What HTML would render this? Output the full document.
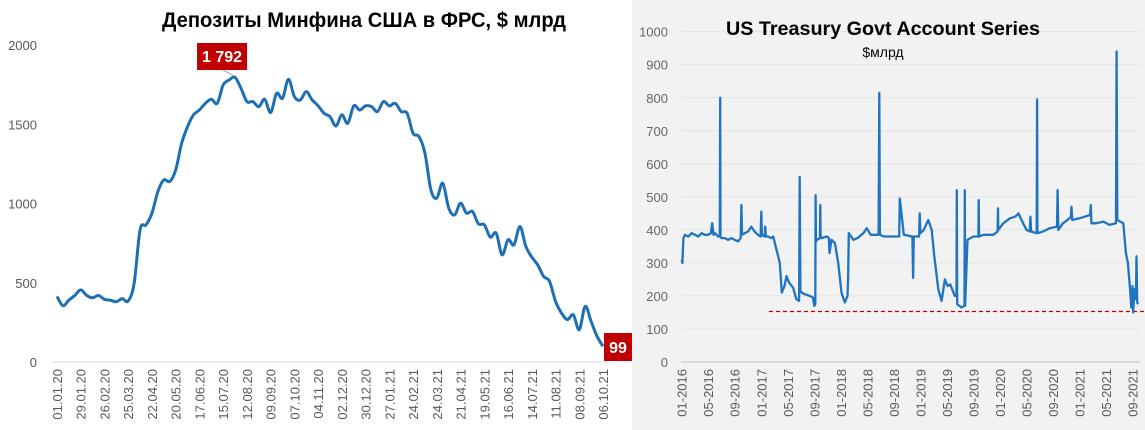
<!DOCTYPE html>
<html><head><meta charset="utf-8"><style>
html,body{margin:0;padding:0;background:#fff;}
svg{display:block;font-family:"Liberation Sans","DejaVu Sans",sans-serif;}
</style></head><body>
<svg id="c" width="1145" height="430" viewBox="0 0 1145 430" xmlns="http://www.w3.org/2000/svg">
<rect x="0" y="0" width="632" height="430" fill="#ffffff"/>
<rect x="632" y="0" width="513" height="430" fill="#f2f2f2"/>
<g id="L"></g>
<g id="R"></g>
</svg>
<script>
// ---- Left chart data (weekly) ----
const leftCategories = ["01.01.20","29.01.20","26.02.20","25.03.20","22.04.20","20.05.20","17.06.20","15.07.20","12.08.20","09.09.20","07.10.20","04.11.20","02.12.20","30.12.20","27.01.21","24.02.21","24.03.21","21.04.21","19.05.21","16.06.21","14.07.21","11.08.21","08.09.21","06.10.21"];
const leftValues = [414,355,390,420,455,420,405,420,395,390,380,400,385,498,834,865,939,1076,1149,1139,1212,1380,1485,1559,1590,1632,1658,1632,1748,1779,1796,1727,1643,1643,1611,1658,1574,1695,1664,1784,1674,1653,1706,1653,1616,1569,1548,1489,1559,1506,1616,1590,1616,1611,1580,1643,1616,1632,1580,1569,1443,1422,1317,1086,1034,1128,971,928,1002,939,950,872,866,788,813,676,771,739,855,729,662,613,540,508,382,309,267,298,204,351,256,162,99];
const leftTicks = [0,500,1000,1500,2000];
const leftPeakLabel = "1 792";
const leftLastLabel = "99";

// ---- Right chart data (month offset from 01-2016, value $bn) ----
const rightMonths = [0,0.1,0.25,0.5,1,1.5,2,2.5,3,3.5,4,4.4,4.6,4.8,5,5.5,5.75,5.8,5.85,6,6.5,7,7.5,8,8.5,8.9,9.0,9.1,9.5,10,10.5,11,11.5,11.9,12,12.1,12.5,12.6,12.7,13,13.5,13.8,14.3,14.8,15.1,15.5,15.8,16.2,16.8,17.3,17.7,17.8,17.9,18.1,18.6,19.3,19.8,20,20.15,20.2,20.25,20.4,20.85,20.9,20.95,21.1,21.9,22.2,22.3,22.6,23.1,23.6,24.1,24.6,25.0,25.1,25.2,25.9,26.5,27.4,27.9,28.5,29.6,29.7,29.8,29.9,30.5,31.9,32.7,32.8,32.9,33.5,34.7,34.8,34.9,35.0,35.7,35.8,35.9,36,36.5,37.2,37.7,38.1,38.7,39.2,39.7,40.1,40.5,41.2,41.45,41.5,41.55,42.2,42.65,42.7,42.75,43.1,44,44.75,44.8,44.85,45.5,47,47.65,47.7,47.75,48.5,49.5,50.3,50.8,51.5,52,52.5,52.6,52.7,53.5,53.55,53.6,53.65,54.5,55.5,56.6,56.7,56.8,57.5,58.5,58.7,58.8,58.9,60,61.6,61.7,61.8,62.5,63.6,64.5,65.5,65.6,65.7,66.6,67,67.3,67.7,67.8,68,68.1,68.3,68.5,68.6,68.7,68.85,69];
const rightValues = [310,300,375,385,380,390,385,380,390,385,385,390,420,385,390,380,380,800,380,375,375,370,375,370,365,375,475,385,390,395,410,395,385,380,455,385,380,410,380,380,375,380,340,300,210,230,260,240,225,190,185,560,215,210,205,200,195,170,175,505,365,370,375,475,375,375,380,375,330,370,360,300,210,180,200,250,390,370,375,390,405,385,385,390,815,385,380,380,380,380,495,385,380,380,255,380,380,380,450,390,400,430,400,320,220,185,250,230,235,200,200,520,175,165,170,520,170,370,380,380,490,380,385,385,395,465,400,420,435,440,450,420,400,395,440,395,390,392,795,390,395,405,410,520,400,420,435,440,470,430,435,445,475,420,420,425,415,420,940,430,420,330,300,200,165,230,150,220,190,320,180,175];
const rightTicks = [0,100,200,300,400,500,600,700,800,900,1000];
const rightCategories = ["01-2016","05-2016","09-2016","01-2017","05-2017","09-2017","01-2018","05-2018","09-2018","01-2019","05-2019","09-2019","01-2020","05-2020","09-2020","01-2021","05-2021","09-2021"];
const rightThreshold = [153];

const NS="http://www.w3.org/2000/svg";
function mk(parent,tag,attrs,text){const e=document.createElementNS(NS,tag);for(const k in attrs)e.setAttribute(k,attrs[k]);if(text!==undefined)e.textContent=text;parent.appendChild(e);return e;}

// ===== LEFT =====
(function(){
const g=document.getElementById('L');
const x0=57,x1=603,yZ=362,yT=45,vMax=2000;
const xs=i=>x0+i*(x1-x0)/(leftValues.length-1);
const ys=v=>yZ-(v/vMax)*(yZ-yT);
const t=mk(g,'text',{x:364,y:27,'text-anchor':'middle','font-size':21,'font-weight':'bold',fill:'#000',textLength:404,lengthAdjust:'spacingAndGlyphs'},"Депозиты Минфина США в ФРС, $ млрд");


leftTicks.forEach(v=>{
  const l=mk(g,'text',{x:37,y:ys(v)+5,'text-anchor':'end','font-size':13,fill:'#595959'},String(v));
  
  
});
const ax=mk(g,'line',{x1:52,y1:yZ,x2:608,y2:yZ,stroke:'#d9d9d9','stroke-width':1});


leftCategories.forEach((c,k)=>{
  const x=xs(k*4);
  const l=mk(g,'text',{x:0,y:0,'text-anchor':'end','font-size':13,fill:'#595959',transform:`translate(${x+5},${369}) rotate(-90)`},c);
  
  
});
const P=leftValues.map((v,i)=>[xs(i),ys(v)]);
let d=`M${P[0][0]},${P[0][1]}`;
for(let i=0;i<P.length-1;i++){
  const p0=P[Math.max(0,i-1)],p1=P[i],p2=P[i+1],p3=P[Math.min(P.length-1,i+2)];
  const c1=[p1[0]+(p2[0]-p0[0])/6,p1[1]+(p2[1]-p0[1])/6];
  const c2=[p2[0]-(p3[0]-p1[0])/6,p2[1]-(p3[1]-p1[1])/6];
  d+=` C${c1[0]},${c1[1]} ${c2[0]},${c2[1]} ${p2[0]},${p2[1]}`;
}
const line=mk(g,'path',{d:d,fill:'none',stroke:'#1f6fb5','stroke-width':3,'stroke-linejoin':'round'});


let pi=0;leftValues.forEach((v,i)=>{if(v>leftValues[pi])pi=i;});
const px=xs(pi),py=ys(leftValues[pi]);
const ll=mk(g,'line',{x1:px-12,y1:70,x2:px-2,y2:py-2,stroke:'#a6a6a6','stroke-width':1});


const pb=mk(g,'rect',{x:px-38,y:43,width:50,height:27,fill:'#c00000'});


const pt=mk(g,'text',{x:px-13,y:62,'text-anchor':'middle','font-size':16,'font-weight':'bold',fill:'#fff'},leftPeakLabel);


const lb=mk(g,'rect',{x:604,y:333,width:28,height:28,fill:'#c00000'});


const lt=mk(g,'text',{x:618,y:353,'text-anchor':'middle','font-size':16,'font-weight':'bold',fill:'#fff'},leftLastLabel);


})();

// ===== RIGHT =====
(function(){
const g=document.getElementById('R');
const x0=681.7,pxPerMonth=6.63,yZ=362,yT=31.7,vMax=1000;
const xs=m=>x0+m*pxPerMonth;
const ys=v=>yZ-(v/vMax)*(yZ-yT);
rightTicks.forEach(v=>{
  if(v>0){const gl=mk(g,'line',{x1:681,y1:ys(v),x2:1140,y2:ys(v),stroke:'#e0e0e0','stroke-width':0.8});
  
  }
  const l=mk(g,'text',{x:668,y:ys(v)+5,'text-anchor':'end','font-size':13,fill:'#666'},String(v));
  
  
});
const ax=mk(g,'line',{x1:681,y1:yZ,x2:1140,y2:yZ,stroke:'#bfbfbf','stroke-width':1});


rightCategories.forEach((c,k)=>{
  const x=xs(k*4);
  const l=mk(g,'text',{x:0,y:0,'text-anchor':'end','font-size':13,fill:'#595959',transform:`translate(${x+5},${369}) rotate(-90)`},c);
  
  
});
const t=mk(g,'text',{x:883,y:35,'text-anchor':'middle','font-size':19,'font-weight':'bold',fill:'#000',textLength:314,lengthAdjust:'spacingAndGlyphs'},"US Treasury Govt Account Series");


const st=mk(g,'text',{x:883,y:57,'text-anchor':'middle','font-size':14,fill:'#000'},"$млрд");


const th=mk(g,'line',{x1:769,y1:ys(rightThreshold[0]),x2:1145,y2:ys(rightThreshold[0]),stroke:'#c00000','stroke-width':1.3,'stroke-dasharray':'4,3'});


const pts=rightMonths.map((m,i)=>`${xs(m).toFixed(1)},${ys(rightValues[i]).toFixed(1)}`).join(' ');
const pl=mk(g,'polyline',{points:pts,fill:'none',stroke:'#1f74c0','stroke-width':2.3,'stroke-linejoin':'round'});


})();
</script>
</body></html>
